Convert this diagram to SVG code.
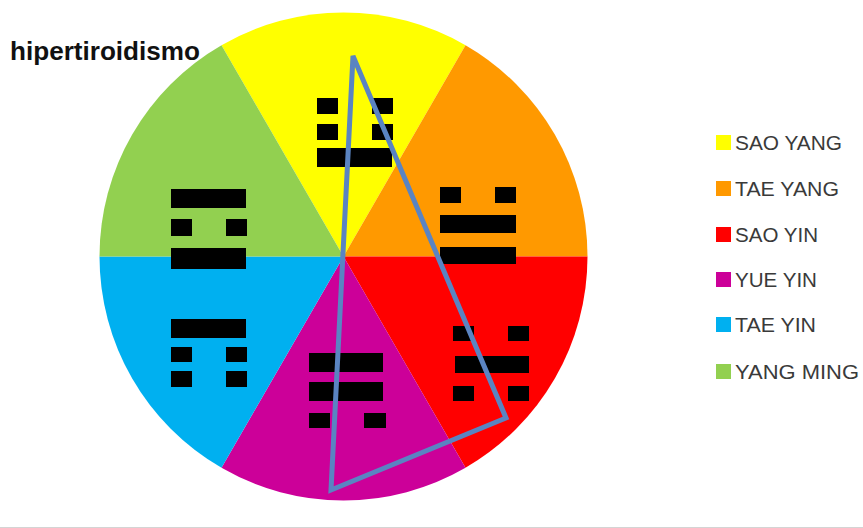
<svg xmlns="http://www.w3.org/2000/svg" width="863" height="528" viewBox="0 0 863 528">
<style>
.bar{fill:#000}
.leg{font-family:"Liberation Sans",Arial,sans-serif;font-size:21px;fill:#3a3a3a}
.title{font-family:"Liberation Sans",Arial,sans-serif;font-size:25px;font-weight:bold;fill:#111}
.tri{fill:none;stroke:#5A84C2;stroke-width:5;stroke-linejoin:miter}
</style>
<rect width="863" height="528" fill="#fff"/>
<line x1="0" y1="527.5" x2="863" y2="527.5" stroke="#d4d4d4" stroke-width="1"/>
<g id="pie">
<g id="sao-yang"><path d="M343.5,256.5 L221.5,45.2 A244,244 0 0 1 465.5,45.2 Z" fill="#FFFF00"/></g>
<g id="tae-yang"><path d="M343.5,256.5 L465.5,45.2 A244,244 0 0 1 587.5,256.5 Z" fill="#FF9900"/></g>
<g id="sao-yin"><path d="M343.5,256.5 L587.5,256.5 A244,244 0 0 1 465.5,467.8 Z" fill="#FF0000"/></g>
<g id="yue-yin"><path d="M343.5,256.5 L465.5,467.8 A244,244 0 0 1 221.5,467.8 Z" fill="#CC0099"/></g>
<g id="tae-yin"><path d="M343.5,256.5 L221.5,467.8 A244,244 0 0 1 99.5,256.5 Z" fill="#00B0F0"/></g>
<g id="yang-ming"><path d="M343.5,256.5 L99.5,256.5 A244,244 0 0 1 221.5,45.2 Z" fill="#92D050"/></g>
</g>
<g id="trigram-sao-yang">
<rect class="bar" x="317" y="98" width="21" height="16"/><rect class="bar" x="372" y="98" width="21" height="16"/>
<rect class="bar" x="317" y="124" width="21" height="16"/><rect class="bar" x="372" y="124" width="21" height="16"/>
<rect class="bar" x="317" y="148" width="75" height="19"/>
</g>
<g id="trigram-tae-yang">
<rect class="bar" x="440" y="187" width="21" height="16"/><rect class="bar" x="495" y="187" width="21" height="16"/>
<rect class="bar" x="440" y="215" width="76" height="18"/>
<rect class="bar" x="440" y="247" width="76" height="17"/>
</g>
<g id="trigram-sao-yin">
<rect class="bar" x="453" y="326" width="21" height="15"/><rect class="bar" x="508" y="326" width="21" height="15"/>
<rect class="bar" x="455" y="356" width="74" height="17"/>
<rect class="bar" x="453" y="386" width="21" height="15"/><rect class="bar" x="508" y="386" width="21" height="15"/>
</g>
<g id="trigram-yue-yin">
<rect class="bar" x="309" y="353" width="74" height="19"/>
<rect class="bar" x="309" y="382" width="74" height="19"/>
<rect class="bar" x="309" y="413" width="21" height="15"/><rect class="bar" x="364" y="413" width="22" height="15"/>
</g>
<g id="trigram-tae-yin">
<rect class="bar" x="171" y="319" width="75" height="19"/>
<rect class="bar" x="171" y="347" width="21" height="15"/><rect class="bar" x="226" y="347" width="21" height="15"/>
<rect class="bar" x="171" y="371" width="21" height="16"/><rect class="bar" x="226" y="371" width="21" height="16"/>
</g>
<g id="trigram-yang-ming">
<rect class="bar" x="171" y="189" width="75" height="19"/>
<rect class="bar" x="171" y="219" width="21" height="17"/><rect class="bar" x="226" y="219" width="21" height="17"/>
<rect class="bar" x="171" y="248" width="75" height="21"/>
</g>
<g id="connectors">
<polygon class="tri" points="353,56 506,418 331,490"/>
</g>
<g id="title"><text class="title" x="10" y="60" textLength="190" lengthAdjust="spacingAndGlyphs">hipertiroidismo</text></g>
<g id="legend">
<g id="leg-sao-yang"><rect x="716" y="135" width="15" height="15" fill="#FFFF00"/><text class="leg" x="735" y="150" textLength="107" lengthAdjust="spacingAndGlyphs">SAO YANG</text></g>
<g id="leg-tae-yang"><rect x="716" y="181" width="15" height="15" fill="#FF9900"/><text class="leg" x="735" y="196" textLength="104" lengthAdjust="spacingAndGlyphs">TAE YANG</text></g>
<g id="leg-sao-yin"><rect x="716" y="227" width="15" height="15" fill="#FF0000"/><text class="leg" x="735" y="242" textLength="83" lengthAdjust="spacingAndGlyphs">SAO YIN</text></g>
<g id="leg-yue-yin"><rect x="716" y="272" width="15" height="15" fill="#CC0099"/><text class="leg" x="735" y="287" textLength="82" lengthAdjust="spacingAndGlyphs">YUE YIN</text></g>
<g id="leg-tae-yin"><rect x="716" y="317" width="15" height="15" fill="#00B0F0"/><text class="leg" x="735" y="332" textLength="81" lengthAdjust="spacingAndGlyphs">TAE YIN</text></g>
<g id="leg-yang-ming"><rect x="716" y="364" width="15" height="15" fill="#92D050"/><text class="leg" x="735" y="379" textLength="124" lengthAdjust="spacingAndGlyphs">YANG MING</text></g>
</g>
</svg>
